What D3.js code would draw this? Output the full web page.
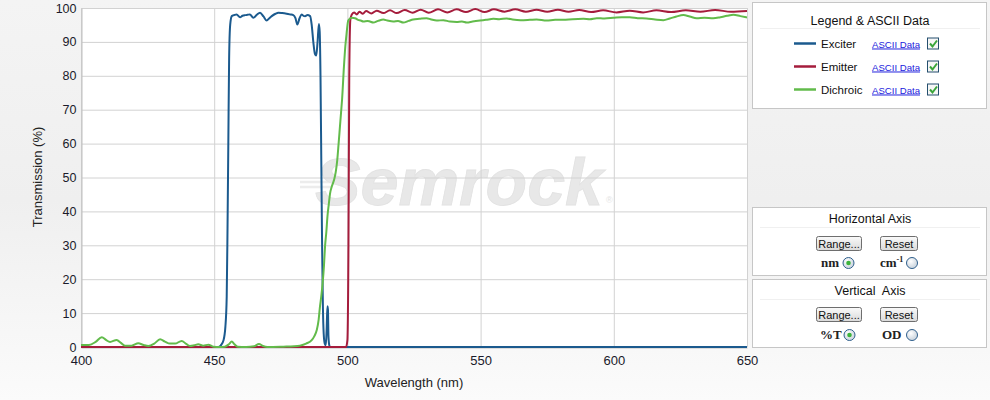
<!DOCTYPE html>
<html><head><meta charset="utf-8">
<script src="https://cdn.jsdelivr.net/npm/d3@7"></script>
<style>body{margin:0;background:#f4f4f4;} svg{display:block;font-family:"Liberation Sans",Arial,sans-serif;}</style>
</head><body><svg id="c" width="990" height="400"></svg>
<script>
// ---------- data ----------
const xTicks = [400, 450, 500, 550, 600, 650];
const yTicks = [0, 10, 20, 30, 40, 50, 60, 70, 80, 90, 100];
const seriesNames = ["Exciter", "Emitter", "Dichroic"];
const seriesColors = ["#1b5a8e", "#a51c3c", "#62bb4b"];

const exciterWl = [400,451.5,452.5,453.5,454.2,454.7,455.0,455.3,455.6,456.0,456.6,457.5,458.4,459.7,460.6,461.6,462.5,463.4,464.7,466,467.2,468.5,469.7,470.7,471.6,473,474.1,475.5,477.2,478.5,479.7,480.5,481.2,482,482.8,483.5,484.1,485,486.0,486.6,487.2,487.8,488.3,488.8,489.3,489.6,489.9,490.2,490.5,490.8,491.1,491.5,491.9,492.2,492.5,492.7,492.9,493.2,493.5,650];
const exciterT  = [0,0,0.5,2,6,15,35,60,85,95,97.6,97.9,98.1,97.3,97.7,97.9,98.0,98.1,97.1,98.0,98.6,97.5,96.3,97.0,97.6,98.3,98.6,98.5,98.3,98.1,97.9,97.0,95.1,96.9,98.1,97.7,97.6,97.9,97.6,95,90,86.5,86,90,95.3,93,80,55,30,12,4,1,0.5,5,12,11,3,0.5,0,0];

const emitterWl = [400,499.5,500,500.4,500.7,501.1,501.6,502.5,503.5,504.5,505.8,507,509,511,513.5,516,518.5,521.5,524.5,527.5,530.5,534,537.5,541,544.5,548,551.5,555,559,563,567,571,575,579,583,587,591.5,596,601,606,611,616,621.5,627,632.5,638,644,650];
const emitterT  = [0,0,2,30,80,96.5,98.0,98.7,98.1,98.9,98.3,99.1,98.4,99.2,98.5,99.3,98.5,99.4,98.6,99.5,98.6,99.6,98.7,99.6,98.8,99.7,98.8,99.6,98.9,99.6,98.9,99.5,98.9,99.5,98.9,99.4,98.8,99.3,98.7,99.2,98.7,99.3,98.8,99.3,98.9,99.4,98.9,99.1];

const dichroicWl = [400,403,405.5,407.8,409.5,410.9,413.4,415,416.5,419,421.5,423.5,425.3,427.5,429.7,431.5,433.4,435.3,437.8,439.5,440.9,442.5,444,445.9,447.8,449.7,452,454,455.5,456.6,457.6,458.8,462,465,466.8,468.3,470,476,480,482.2,484.5,486.6,487.6,488.5,489.2,489.7,490.2,490.7,491.2,491.6,492.1,492.5,493,493.5,494.2,495,495.6,496.2,496.7,497.2,497.6,498,498.7,499.2,499.7,500.3,501,501.6,502.9,504,505,506,507.5,508.5,509.7,511.5,513.5,515,517.2,519,521,523,524.7,527,529.7,531.5,533.5,536,538.5,541,543,544.8,547,549.8,552,554.8,557,559.8,562,565,568.5,571,574.8,578,581,584.5,588.6,591,593.6,596.5,599.8,603,606,609,612.3,615.5,618.6,621,623.5,626.1,628.5,631.1,634,637.3,640,642.5,644.9,647.5,650];
const dichroicT  = [0.6,0.6,1.5,2.9,2.0,1.5,2.1,1.2,0.4,0.4,1.1,0.6,0.3,1.0,2.3,1.6,1.0,1.0,1.8,0.9,0.3,0.5,0.8,0.4,0.7,0.1,0,0.1,0.8,1.6,0.8,0.1,0,0.2,0.9,0.3,0,0.1,0.2,0.4,1.0,2.0,3.2,5,8,11.9,15,18.8,24,29.6,34,38.4,42,45.3,47.5,49.3,51.5,55.2,60,65,69,73,82.7,88.5,92.5,96.3,96.9,97.1,97.0,96.5,96.3,96.0,96.2,96.0,95.7,96.2,96.6,96.3,96.0,96.2,95.7,96.2,96.6,96.8,97.0,96.6,96.3,96.4,96.0,95.9,96.0,95.7,96.0,96.3,96.5,96.8,96.7,96.9,96.6,96.4,96.5,96.6,96.3,96.5,96.5,96.7,96.8,96.7,97.0,96.9,97.1,97.3,97.3,97.0,96.9,96.6,96.4,96.9,97.5,97.9,97.5,97.0,97.1,97.0,97.3,97.7,98.0,97.6,97.2];

// ---------- layout ----------
const svg = d3.select("#c");
const L = 81, R = 747, T = 8, B = 347;
const x = d3.scaleLinear().domain([400, 650]).range([L, R]);
const y = d3.scaleLinear().domain([0, 100]).range([B, T]);

const defs = svg.append("defs");
const bg = defs.append("linearGradient").attr("id","bg").attr("x1",0).attr("y1",0).attr("x2",0).attr("y2",1);
bg.append("stop").attr("offset","0%").attr("stop-color","#f4f4f4");
bg.append("stop").attr("offset","50%").attr("stop-color","#efefef");
bg.append("stop").attr("offset","100%").attr("stop-color","#fbfbfb");
const rb = defs.append("linearGradient").attr("id","rainbow");
[["0%","#e4e4f4"],["30%","#e4ecfa"],["50%","#e6f6e6"],["70%","#f8f4dc"],["100%","#f8e4e4"]].forEach(s=>rb.append("stop").attr("offset",s[0]).attr("stop-color",s[1]));
const btn = defs.append("linearGradient").attr("id","btn").attr("x1",0).attr("y1",0).attr("x2",0).attr("y2",1);
btn.append("stop").attr("offset","0%").attr("stop-color","#fafafa");
btn.append("stop").attr("offset","100%").attr("stop-color","#d9d9d9");
const rad = defs.append("radialGradient").attr("id","rad").attr("cx","40%").attr("cy","35%");
rad.append("stop").attr("offset","0%").attr("stop-color","#ffffff");
rad.append("stop").attr("offset","100%").attr("stop-color","#d4dce4");

svg.append("rect").attr("width",990).attr("height",400).attr("fill","url(#bg)");
svg.append("rect").attr("x",L).attr("y",T).attr("width",R-L).attr("height",B-T).attr("fill","#fff");

// watermark
const wm = svg.append("g");
wm.append("path").attr("d","M357,157 L578,157").attr("stroke","url(#rainbow)").attr("stroke-width",2.5).attr("fill","none");
wm.append("path").attr("d","M352,162 L575,162").attr("stroke","url(#rainbow)").attr("stroke-width",2).attr("fill","none");
wm.append("path").attr("d","M300,182 L335,182 M300,187 L332,187").attr("stroke","#ececec").attr("stroke-width",2.5);
wm.append("text").attr("x",315).attr("y",205).attr("font-size",66).attr("font-weight","bold").attr("font-style","italic")
  .attr("fill","#e8e8e8").attr("stroke","#e2e2e2").attr("stroke-width",0.8)
  .attr("textLength",288).attr("lengthAdjust","spacingAndGlyphs").text("Semrock");
wm.append("text").attr("x",606).attr("y",203).attr("font-size",9).attr("fill","#e4e4e4").text("®");

// grid
svg.append("g").selectAll("line").data(yTicks).join("line")
  .attr("x1",L).attr("x2",R).attr("y1",d=>y(d)+0.5).attr("y2",d=>y(d)+0.5)
  .attr("stroke","#d2d2d2").attr("stroke-width",1);
svg.append("g").selectAll("line").data(xTicks).join("line")
  .attr("x1",d=>x(d)+0.5).attr("x2",d=>x(d)+0.5).attr("y1",T).attr("y2",B)
  .attr("stroke","#d2d2d2").attr("stroke-width",1);

// axes
const yAxis = svg.append("g").attr("transform",`translate(${L+0.5},0)`)
  .call(d3.axisLeft(y).tickValues(yTicks).tickSize(0).tickPadding(5));
yAxis.select(".domain").attr("stroke","#c0c0c0");
yAxis.selectAll("text").attr("font-size",12.5).attr("fill","#1a1a2a").attr("font-family","'Liberation Sans',Arial,sans-serif");
const xAxis = svg.append("g").attr("transform",`translate(0,${B+0.5})`)
  .call(d3.axisBottom(x).tickValues(xTicks).tickSize(0).tickPadding(8));
xAxis.select(".domain").attr("stroke","#c0c0c0");
xAxis.selectAll("text").attr("font-size",13).attr("fill","#1a1a2a").attr("font-family","'Liberation Sans',Arial,sans-serif");

svg.append("text").attr("x",414).attr("y",387).attr("text-anchor","middle").attr("font-size",13).attr("fill","#222").text("Wavelength (nm)");
svg.append("text").attr("transform","translate(42,177) rotate(-90)").attr("text-anchor","middle").attr("font-size",13).attr("fill","#222").text("Transmission (%)");

// lines
const series = [
  {wl: exciterWl, t: exciterT},
  {wl: emitterWl, t: emitterT},
  {wl: dichroicWl, t: dichroicT}
];
const line = d3.line().x(d=>x(d[0])).y(d=>y(d[1])).curve(d3.curveMonotoneX);
const clip = defs.append("clipPath").attr("id","plotclip");
clip.append("rect").attr("x",L).attr("y",T-2).attr("width",R-L).attr("height",B-T+3);
series.forEach((s,i)=>{
  svg.append("path").datum(s.wl.map((w,k)=>[w,s.t[k]]))
    .attr("d",line).attr("fill","none").attr("stroke",seriesColors[i]).attr("stroke-width",2)
    .attr("stroke-linejoin","round").attr("clip-path","url(#plotclip)");
});

// ---------- right panels ----------
function panel(y0,h,title,ty,sy){
  svg.append("rect").attr("x",752.5).attr("y",y0+0.5).attr("width",234).attr("height",h).attr("fill","#fff").attr("stroke","#c6c6c6");
  svg.append("line").attr("x1",760).attr("x2",980).attr("y1",sy+0.5).attr("y2",sy+0.5).attr("stroke","#f0f0f0");
  svg.append("text").attr("x",870).attr("y",ty).attr("text-anchor","middle").attr("font-size",12.5).attr("fill","#111").attr("xml:space","preserve").text(title);
}
panel(2,106,"Legend & ASCII Data",25,28);
seriesNames.forEach((n,i)=>{
  const yy = 43.5 + i*23;
  svg.append("line").attr("x1",794).attr("x2",816).attr("y1",yy).attr("y2",yy).attr("stroke",seriesColors[i]).attr("stroke-width",2.5);
  svg.append("text").attr("x",821).attr("y",yy+4.5).attr("font-size",11.5).attr("fill","#111").text(n);
  svg.append("text").attr("x",872).attr("y",yy+4).attr("font-size",9.6).attr("fill","#1a1adc").attr("text-decoration","underline").text("ASCII Data");
  svg.append("rect").attr("x",927.5).attr("y",yy-5.5).attr("width",11).attr("height",11).attr("fill","#f6f6f6").attr("stroke","#244f6e");
  svg.append("path").attr("d",`M930,${yy} L932.5,${yy+3} L937,${yy-3}`).attr("fill","none").attr("stroke","#3aa53a").attr("stroke-width",2);
});

function button(x0,y0,w,label){
  svg.append("rect").attr("x",x0+0.5).attr("y",y0+0.5).attr("width",w).attr("height",14).attr("rx",2).attr("fill","url(#btn)").attr("stroke","#6e6e6e");
  svg.append("text").attr("x",x0+w/2+0.5).attr("y",y0+11.5).attr("text-anchor","middle").attr("font-size",11).attr("fill","#111").text(label);
}
function radio(cx,cy,on){
  svg.append("circle").attr("cx",cx).attr("cy",cy).attr("r",5.5).attr("fill","url(#rad)").attr("stroke","#2f5f8c");
  if(on) svg.append("circle").attr("cx",cx).attr("cy",cy).attr("r",2.3).attr("fill","#3cb33c");
}
function serif(x0,yb,t,sup){
  const tx = svg.append("text").attr("x",x0).attr("y",yb).attr("font-size",13).attr("font-weight","bold").attr("font-family","'Liberation Serif','Times New Roman',serif").attr("fill","#222").text(t);
  if(sup) tx.append("tspan").attr("font-size",8).attr("dy",-5).text(sup);
}
panel(207,68,"Horizontal Axis",222.5,227);
button(816,236,45,"Range...");
button(880,236,37,"Reset");
serif(821,267,"nm"); radio(848.5,263,true);
serif(880,267,"cm","-1"); radio(912,263,false);

panel(279,68,"Vertical  Axis",294.5,299);
button(816,307,45,"Range...");
button(880,307,37,"Reset");
serif(820,339,"%T"); radio(849.5,335,true);
serif(882,339,"OD"); radio(912,335,false);
</script></body></html>
